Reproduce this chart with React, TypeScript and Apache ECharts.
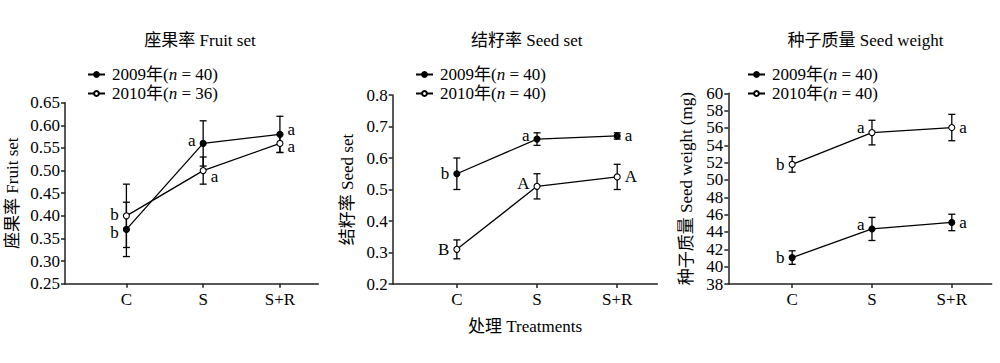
import React, { useEffect, useRef } from "react";
import * as echarts from "echarts";

const categories = ["C", "S", "S+R"];

// Panel 1: 座果率 Fruit set
const fruit2009 = [0.37, 0.56, 0.58];
const fruit2009Err = [0.06, 0.05, 0.04];
const fruit2010 = [0.4, 0.5, 0.56];
const fruit2010Err = [0.07, 0.03, 0.02];
const fruit2009Letters = ["b", "a", "a"];
const fruit2010Letters = ["b", "a", "a"];

// Panel 2: 结籽率 Seed set
const seed2009 = [0.55, 0.66, 0.67];
const seed2009Err = [0.05, 0.02, 0.01];
const seed2010 = [0.31, 0.51, 0.54];
const seed2010Err = [0.03, 0.04, 0.04];
const seed2009Letters = ["b", "a", "a"];
const seed2010Letters = ["B", "A", "A"];

// Panel 3: 种子质量 Seed weight
const weight2009 = [41.05, 44.35, 45.1];
const weight2009Err = [0.78, 1.33, 0.95];
const weight2010 = [51.8, 55.47, 56.05];
const weight2010Err = [0.9, 1.42, 1.52];
const weight2009Letters = ["b", "a", "a"];
const weight2010Letters = ["b", "a", "a"];

const titles = ["座果率 Fruit set", "结籽率 Seed set", "种子质量 Seed weight"];
const yNames = ["座果率 Fruit set", "结籽率 Seed set", "种子质量 Seed weight (mg)"];
const xName = "处理 Treatments";
const sampleSizes = [
  [40, 36],
  [40, 40],
  [40, 40],
];
const yAxes = [
  { min: 0.25, max: 0.65, interval: 0.05, digits: 2 },
  { min: 0.2, max: 0.8, interval: 0.1, digits: 1 },
  { min: 38, max: 60, interval: 2, digits: 0 },
];

// layout / style (not data)
const FONT = "'Liberation Serif', 'Times New Roman', 'Noto Sans CJK SC', serif";
const grids = [
  { left: 65, top: 102.7, width: 253.3, height: 181 },
  { left: 392.7, top: 95, width: 264.6, height: 189 },
  { left: 728.3, top: 93.3, width: 263.4, height: 190.7 },
];
const titleCenters = [195, 521.7, 860.5];
const legendLefts = [82, 410, 742];
const yNameGaps = [44, 37, 33];
type LabelCfg = { side: string; dy: number };
const labelCfg2009: LabelCfg[][] = [
  [{ side: "left", dy: 3 }, { side: "left", dy: -3 }, { side: "right", dy: -5 }],
  [{ side: "left", dy: 0 }, { side: "left", dy: -4 }, { side: "right", dy: 0 }],
  [{ side: "left", dy: 0 }, { side: "left", dy: -4 }, { side: "right", dy: 0 }],
];
const labelCfg2010: LabelCfg[][] = [
  [{ side: "left", dy: -1 }, { side: "right", dy: 6 }, { side: "right", dy: 3.5 }],
  [{ side: "left", dy: 0 }, { side: "left", dy: -3 }, { side: "right", dy: 0 }],
  [{ side: "left", dy: 0 }, { side: "left", dy: -5 }, { side: "right", dy: 0 }],
];

const panels = [
  { m09: fruit2009, e09: fruit2009Err, m10: fruit2010, e10: fruit2010Err, l09: fruit2009Letters, l10: fruit2010Letters },
  { m09: seed2009, e09: seed2009Err, m10: seed2010, e10: seed2010Err, l09: seed2009Letters, l10: seed2010Letters },
  { m09: weight2009, e09: weight2009Err, m10: weight2010, e10: weight2010Err, l09: weight2009Letters, l10: weight2010Letters },
];

function errorBarRender(params: any, api: any) {
  const x = api.value(0);
  const lo = api.coord([x, api.value(1)]);
  const hi = api.coord([x, api.value(2)]);
  const w = 3.5;
  const style = { stroke: "#000", lineWidth: 1.3 };
  return {
    type: "group",
    children: [
      { type: "line", shape: { x1: lo[0], y1: lo[1], x2: hi[0], y2: hi[1] }, style },
      { type: "line", shape: { x1: lo[0] - w, y1: lo[1], x2: lo[0] + w, y2: lo[1] }, style },
      { type: "line", shape: { x1: hi[0] - w, y1: hi[1], x2: hi[0] + w, y2: hi[1] }, style },
    ],
  };
}

function buildOption() {
  const grid: any[] = [];
  const xAxis: any[] = [];
  const yAxis: any[] = [];
  const title: any[] = [];
  const legend: any[] = [];
  const series: any[] = [];
  const axisLineStyle = { color: "#222", width: 1.5 };
  const richBase = { fontFamily: FONT, fontSize: 17, color: "#000" };

  panels.forEach((p, i) => {
    grid.push({ ...grids[i], containLabel: false });
    title.push({
      text: titles[i],
      left: titleCenters[i],
      top: 27,
      textAlign: "center",
      textStyle: { fontFamily: FONT, fontSize: 17, fontWeight: "normal", color: "#000" },
    });
    const n = sampleSizes[i];
    legend.push({
      orient: "vertical",
      left: legendLefts[i],
      top: 61,
      itemWidth: 17,
      itemHeight: 6,
      itemGap: 2,
      selectedMode: false,
      data: ["2009", "2010"],
      formatter: (name: string) =>
        `{r|${name}年(}{i|n}{r| = ${name === "2009" ? n[0] : n[1]})}`,
      textStyle: {
        ...richBase,
        padding: [0, 0, 0, 2],
        rich: {
          r: { ...richBase },
          i: { ...richBase, fontStyle: "italic" },
        },
      },
    });
    xAxis.push({
      type: "value",
      gridIndex: i,
      min: -0.8,
      max: 2.5,
      splitLine: { show: false },
      axisLine: { show: true, onZero: false, lineStyle: axisLineStyle },
      axisTick: { show: true, customValues: [0, 1, 2], length: 4, lineStyle: axisLineStyle },
      axisLabel: {
        customValues: [0, 1, 2],
        formatter: (v: number) => categories[Math.round(v)] ?? "",
        fontFamily: FONT,
        fontSize: 17,
        color: "#000",
        margin: 7,
      },
      name: i === 1 ? xName : "",
      nameLocation: "middle",
      nameGap: 34,
      nameTextStyle: { fontFamily: FONT, fontSize: 17, color: "#000" },
    });
    const ya = yAxes[i];
    yAxis.push({
      type: "value",
      gridIndex: i,
      min: ya.min,
      max: ya.max,
      interval: ya.interval,
      splitLine: { show: false },
      axisLine: { show: true, onZero: false, lineStyle: axisLineStyle },
      axisTick: { show: true, length: 4, lineStyle: axisLineStyle },
      axisLabel: {
        formatter: (v: number) => v.toFixed(ya.digits),
        fontFamily: FONT,
        fontSize: 17,
        color: "#000",
        margin: 5,
      },
      name: yNames[i],
      nameLocation: "middle",
      nameGap: yNameGaps[i],
      nameTextStyle: { fontFamily: FONT, fontSize: 17, color: "#000" },
    });

    const years = [
      { name: "2009", m: p.m09, e: p.e09, l: p.l09, cfg: labelCfg2009[i], fill: "#000" },
      { name: "2010", m: p.m10, e: p.e10, l: p.l10, cfg: labelCfg2010[i], fill: "#fff" },
    ];
    years.forEach((yr) => {
      series.push({
        type: "custom",
        name: yr.name + "-err",
        xAxisIndex: i,
        yAxisIndex: i,
        z: 1,
        renderItem: errorBarRender,
        data: yr.m.map((v, k) => [k, v - yr.e[k], v + yr.e[k]]),
        silent: true,
      });
      series.push({
        type: "line",
        name: yr.name,
        xAxisIndex: i,
        yAxisIndex: i,
        z: 3,
        symbol: "circle",
        symbolSize: 6,
        lineStyle: { color: "#000", width: 1.3 },
        itemStyle: { color: yr.fill, borderColor: "#000", borderWidth: 1.1 },
        data: yr.m.map((v, k) => ({
          value: [k, v],
          label: {
            show: true,
            position: yr.cfg[k].side,
            distance: 4,
            offset: [0, yr.cfg[k].dy],
            formatter: yr.l[k],
            fontFamily: FONT,
            fontSize: 17,
            lineHeight: 13,
            color: "#000",
          },
        })),
      });
    });
  });

  return { animation: false, backgroundColor: "#fff", grid, xAxis, yAxis, title, legend, series };
}

export default function App() {
  const ref = useRef<HTMLDivElement>(null);
  useEffect(() => {
    if (!ref.current) return;
    const chart = echarts.init(ref.current, undefined, { renderer: "svg" });
    chart.setOption(buildOption() as any);
    return () => chart.dispose();
  }, []);
  return (
    <div
      ref={ref}
      style={{ position: "absolute", left: 0, top: 0, width: 1000, height: 363, background: "#fff" }}
    />
  );
}
